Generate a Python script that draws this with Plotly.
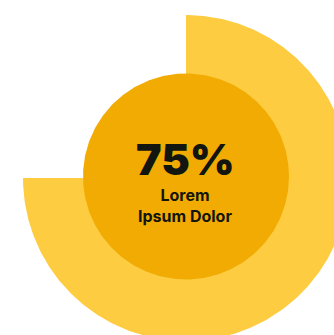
import numpy as np
import plotly.graph_objects as go

# Progress value shown in the ring and its caption
progress_pct = 75
headline = f"{progress_pct}%"
caption_lines = ["Lorem", "Ipsum Dolor"]

W, H = 334, 335
cx, cy = 186, 178          # ring centre (pixel units)
r_outer = 163
r_disc = 103

ring_color = "#FDCC40"
disc_color = "#F1AB02"
text_color = "#121510"

fig = go.Figure()

# Progress wedge: clockwise from 12 o'clock, sweep set by the value
sweep = 2 * np.pi * progress_pct / 100
theta = np.linspace(0, sweep, 400)
wx = np.concatenate([[cx], cx + r_outer * np.sin(theta), [cx]])
wy = np.concatenate([[cy], cy - r_outer * np.cos(theta), [cy]])
fig.add_trace(go.Scatter(x=wx, y=wy, mode="lines", fill="toself",
                         fillcolor=ring_color, line=dict(width=0),
                         hoverinfo="skip", showlegend=False))

# Central disc
dcx, dcy = 186, 176.5
phi = np.linspace(0, 2 * np.pi, 400)
fig.add_trace(go.Scatter(x=dcx + r_disc * np.cos(phi), y=dcy + r_disc * np.sin(phi),
                         mode="lines", fill="toself", fillcolor=disc_color,
                         line=dict(width=0), hoverinfo="skip", showlegend=False))

fig.add_annotation(x=185, y=159, text=headline, showarrow=False,
                   font=dict(family="Inter", size=43, color=text_color, weight=900),
                   xanchor="center", yanchor="middle")
fig.add_annotation(x=185, y=205.5, text="<br>".join(caption_lines), showarrow=False,
                   font=dict(family="Inter", size=16, color=text_color, weight=700),
                   xanchor="center", yanchor="middle", align="center")

fig.update_layout(
    width=W, height=H,
    margin=dict(l=0, r=0, t=0, b=0),
    paper_bgcolor="white", plot_bgcolor="white",
    xaxis=dict(range=[0, W], visible=False, fixedrange=True),
    yaxis=dict(range=[H, 0], visible=False, fixedrange=True),
)

fig.write_html("out.html")
